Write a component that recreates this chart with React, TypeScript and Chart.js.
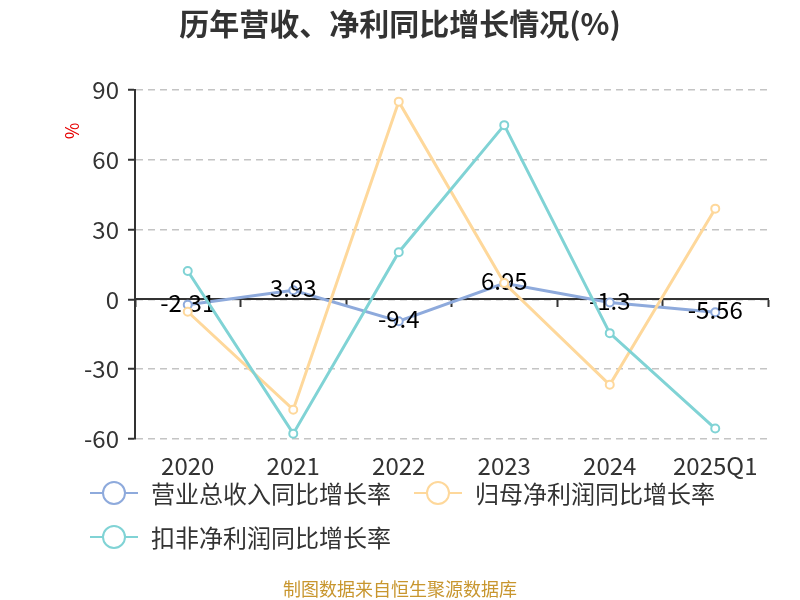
import React, { useEffect, useRef } from "react";
import { Chart, registerables } from "chart.js";

Chart.register(...registerables);

const categories = ["2020", "2021", "2022", "2023", "2024", "2025Q1"];
const revenueGrowth = [-2.31, 3.93, -9.4, 6.95, -1.3, -5.56];
const netProfitGrowth = [-5.3, -47.4, 85.0, 7.0, -36.7, 39.0];
const deductedProfitGrowth = [12.2, -57.7, 20.3, 74.9, -14.5, -55.5];
const seriesNames = ["营业总收入同比增长率", "归母净利润同比增长率", "扣非净利润同比增长率"];
const yTicks = [-60, -30, 0, 30, 60, 90];

const COLORS = ["#8eaadc", "#fed89b", "#80d3d5"];
const FONT = "'Noto Sans CJK SC', 'Noto Sans', sans-serif";
const TITLE = "历年营收、净利同比增长情况(%)";
const FOOTER = "制图数据来自恒生聚源数据库";

const decorPlugin = {
  id: "decor",
  afterDatasetDraw(chart: any, args: any) {
    if (args.index !== 0) return;
    const ctx = chart.ctx;
    const meta = chart.getDatasetMeta(0);
    ctx.save();
    ctx.font = `24px ${FONT}`;
    ctx.fillStyle = "#000";
    ctx.textAlign = "center";
    ctx.textBaseline = "middle";
    meta.data.forEach((pt: any, i: number) => {
      ctx.fillText(String(revenueGrowth[i]), pt.x, pt.y - 2);
    });
    ctx.restore();
  },
  afterDraw(chart: any) {
    const ctx = chart.ctx;
    ctx.save();
    // title
    ctx.font = `bold 30px ${FONT}`;
    ctx.fillStyle = "#333";
    ctx.textAlign = "center";
    ctx.textBaseline = "middle";
    ctx.fillText(TITLE, 400, 24);
    // y axis unit
    ctx.save();
    ctx.translate(72, 131);
    ctx.rotate(-Math.PI / 2);
    ctx.font = `18px ${FONT}`;
    ctx.fillStyle = "#e60000";
    ctx.fillText("%", 0, 0);
    ctx.restore();
    // legend
    ctx.font = `24px ${FONT}`;
    ctx.textAlign = "left";
    const rows = [
      [0, 1],
      [2],
    ];
    const rowY = [493, 537];
    rows.forEach((row, r) => {
      let x = 90;
      row.forEach((idx) => {
        const y = rowY[r];
        ctx.strokeStyle = COLORS[idx];
        ctx.lineWidth = 2;
        ctx.beginPath();
        ctx.moveTo(x, y);
        ctx.lineTo(x + 48, y);
        ctx.stroke();
        ctx.beginPath();
        ctx.arc(x + 24, y, 11, 0, Math.PI * 2);
        ctx.fillStyle = "#fff";
        ctx.fill();
        ctx.stroke();
        ctx.fillStyle = "#333";
        ctx.fillText(seriesNames[idx], x + 61, y + 1);
        x += 61 + ctx.measureText(seriesNames[idx]).width + 23;
      });
    });
    // footer
    ctx.font = `18px ${FONT}`;
    ctx.fillStyle = "#c8962e";
    ctx.textAlign = "center";
    ctx.fillText(FOOTER, 400, 589);
    ctx.restore();
  },
};

export default function App() {
  const ref = useRef<HTMLCanvasElement | null>(null);
  useEffect(() => {
    if (!ref.current) return;
    const mk = (label: string, data: number[], color: string, order: number) => ({
      label,
      data,
      borderColor: color,
      backgroundColor: "#fff",
      pointBackgroundColor: "#fff",
      pointBorderColor: color,
      pointBorderWidth: 2,
      pointRadius: 4,
      borderWidth: 3,
      tension: 0,
      order,
    });
    const chart = new Chart(ref.current, {
      type: "line",
      data: {
        labels: categories,
        datasets: [
          mk(seriesNames[0], revenueGrowth, COLORS[0], 3),
          mk(seriesNames[1], netProfitGrowth, COLORS[1], 2),
          mk(seriesNames[2], deductedProfitGrowth, COLORS[2], 1),
        ],
      },
      options: {
        animation: false,
        responsive: false,
        maintainAspectRatio: false,
        layout: { padding: { top: 90, left: 0, right: 32, bottom: 121 } },
        plugins: {
          legend: { display: false },
          title: { display: false },
          tooltip: { enabled: false },
        },
        scales: {
          y: {
            min: -60,
            max: 90,
            afterFit: (s: any) => {
              s.width = 135;
            },
            afterBuildTicks: (s: any) => {
              s.ticks = yTicks.map((v) => ({ value: v }));
            },
            ticks: {
              font: { size: 24, family: FONT },
              color: "#333",
              padding: 9,
            },
            grid: {
              color: "#c4c4c4",
              lineWidth: 1.5,
              tickLength: 7,
              tickColor: "#333",
              tickWidth: 2,
            },
            border: { display: true, color: "#333", width: 2, dash: [7, 5] },
          },
          x: {
            type: "category",
            position: "bottom",
            offset: true,
            afterFit: (s: any) => {
              s.height = 40;
            },
            ticks: {
              font: { size: 24, family: FONT },
              color: "#333",
              padding: 12,
              maxRotation: 0,
              autoSkip: false,
            },
            grid: { display: false, drawTicks: false },
            border: { display: false },
          },
          x2: {
            type: "category",
            axis: "x",
            position: { y: 0 },
            offset: true,
            labels: categories,
            ticks: { display: false },
            grid: {
              offset: true,
              drawOnChartArea: false,
              drawTicks: true,
              tickLength: 7,
              tickColor: "#333",
              tickWidth: 2,
            },
            border: { display: true, color: "#333", width: 2 },
          },
        },
      } as any,
      plugins: [decorPlugin],
    });
    return () => chart.destroy();
  }, []);
  return (
    <div style={{ position: "fixed", left: 0, top: 0, width: 800, height: 600, background: "#fff" }}>
      <canvas ref={ref} width={800} height={600} style={{ width: 800, height: 600 }} />
    </div>
  );
}
